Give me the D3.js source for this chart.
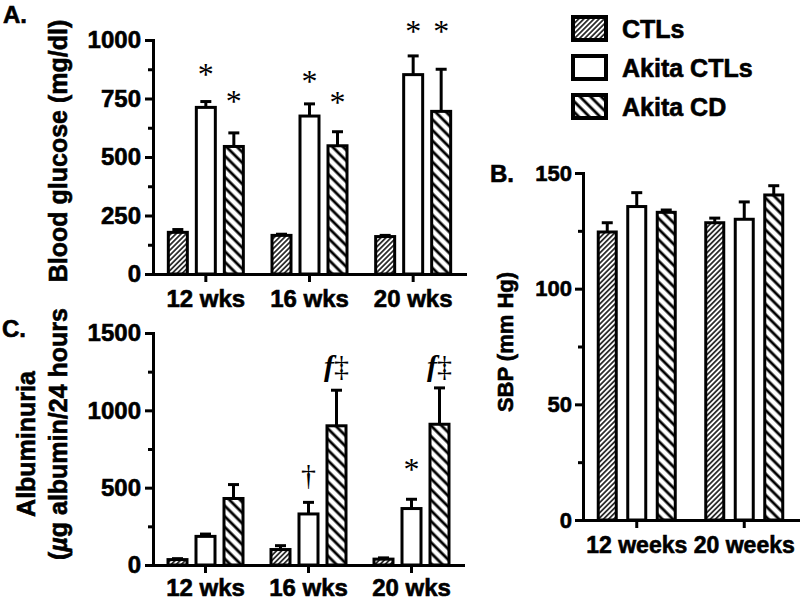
<!DOCTYPE html>
<html>
<head>
<meta charset="utf-8">
<script src="https://cdn.jsdelivr.net/npm/d3@7"></script>
<style>
  body { margin: 0; background: #fff; }
  svg { display: block; }
  text { font-family: "Liberation Sans", Arial, sans-serif; font-weight: bold; fill: #000;
         stroke: #000; stroke-width: 0.6px; }
  text.sig { stroke: none; }
</style>
</head>
<body>
<svg id="fig" width="800" height="603"></svg>
<script>

// series (legend order)
const series = ["CTLs", "Akita CTLs", "Akita CD"];

// A. blood glucose  [group][series]
const weeksAC = ["12 wks", "16 wks", "20 wks"];
const glucoseMean = [[178, 712, 545], [165, 675, 548], [160, 852, 695]];
const glucoseErr  = [[12, 25, 58], [5, 52, 60], [5, 80, 180]];
const glucoseMarks  = [[null, "*", "*"], [null, "*", "*"], [null, "*", "*"]];
const glucoseLevels = [[0, 872, 756], [0, 842, 752], [0, 1055, 1055]];
const glucoseTicks = [0, 250, 500, 750, 1000];
const glucoseMinor = [125, 375, 625, 875];

// C. albuminuria
const albuminMean = [[35, 185, 430], [100, 330, 900], [38, 365, 910]];
const albuminErr  = [[6, 15, 90], [25, 75, 230], [8, 60, 235]];
const albuminMarks  = [[null, null, null], [null, "†", "f‡"], [null, "*", "f‡"]];
const albuminLevels = [[0, 0, 0], [0, 575, 1280], [0, 646, 1280]];
const albuminTicks = [0, 500, 1000, 1500];
const albuminMinor = [250, 750, 1250];

// B. systolic blood pressure
const weeksB = ["12 weeks", "20 weeks"];
const sbpMean = [[124.5, 135.5, 133], [128.5, 130, 140.5]];
const sbpErr  = [[4, 6, 1], [2, 7.5, 4]];
const sbpTicks = [0, 50, 100, 150];
const sbpMinor = [25, 75, 125];

const svg = d3.select("#fig");
const defs = svg.append("defs");

/* ハッチング模様を作る */
function hatch(id, angle, spacing, width, color) {
  const p = defs.append("pattern")
    .attr("id", id)
    .attr("patternUnits", "userSpaceOnUse")
    .attr("width", spacing)
    .attr("height", spacing)
    .attr("patternTransform", `rotate(${angle})`);
  p.append("rect").attr("width", spacing).attr("height", spacing).attr("fill", "#fff");
  p.append("line")
    .attr("x1", spacing / 2).attr("x2", spacing / 2)
    .attr("y1", 0).attr("y2", spacing)
    .attr("stroke", color).attr("stroke-width", width);
}
hatch("hatchCtl", 45, 3.6, 1.7, "#222");
hatch("hatchCd", -45, 7.5, 2.8, "#000");
const fills = ["url(#hatchCtl)", "#fff", "url(#hatchCd)"];

/* パネル 1 つを描く */
function drawPanel(p) {
  const x = d3.scaleBand().domain(p.groups).range(p.xRange);
  const off = d3.scalePoint().domain(series).range([-p.step, p.step]);
  const y = d3.scaleLinear().domain([p.ticks[0], p.ticks[p.ticks.length - 1]]).range(p.yRange);
  const g = svg.append("g");

  const data = p.groups.flatMap((gr, i) => series.map((s, j) => ({
    gr, s, j,
    v: p.mean[i][j],
    e: p.err[i][j],
    mark: p.marks ? p.marks[i][j] : null,
    lvl: p.levels ? p.levels[i][j] : 0
  })));
  const cx = d => x(d.gr) + x.bandwidth() / 2 + off(d.s);

  // error bars (upper only)
  const eb = g.append("g").attr("stroke", "#000").attr("stroke-width", 3);
  eb.selectAll("line.stem").data(data).join("line")
    .attr("class", "stem")
    .attr("x1", cx).attr("x2", cx)
    .attr("y1", d => y(d.v)).attr("y2", d => y(d.v + d.e));
  eb.selectAll("line.cap").data(data).join("line")
    .attr("class", "cap")
    .attr("x1", d => cx(d) - 5.5).attr("x2", d => cx(d) + 5.5)
    .attr("y1", d => y(d.v + d.e)).attr("y2", d => y(d.v + d.e));

  // bars
  g.append("g").selectAll("rect").data(data).join("rect")
    .attr("x", d => cx(d) - p.barW / 2)
    .attr("y", d => y(d.v))
    .attr("width", p.barW)
    .attr("height", d => y(0) - y(d.v))
    .attr("fill", d => fills[d.j])
    .attr("stroke", "#000")
    .attr("stroke-width", 3);

  // significance marks
  g.append("g").selectAll("text").data(data.filter(d => d.mark)).join("text")
    .attr("class", "sig")
    .attr("x", cx)
    .attr("y", d => y(d.lvl) + (d.mark === "*" ? 15 : 9))
    .attr("text-anchor", "middle")
    .style("font-family", '"Liberation Serif", "Times New Roman", serif')
    .style("font-weight", "normal")
    .style("font-size", d => d.mark === "*" ? "32px" : "30px")
    .each(function (d) {
      const t = d3.select(this);
      if (d.mark.startsWith("f")) {
        t.append("tspan").text("f").style("font-style", "italic").style("font-weight", "bold");
        t.append("tspan").text(d.mark.slice(1));
      } else {
        t.text(d.mark);
      }
    });

  // minor ticks
  g.append("g")
    .attr("transform", `translate(${p.axisX},0)`)
    .call(d3.axisLeft(y).tickValues(p.minor).tickSize(5).tickFormat(""))
    .call(s => s.select(".domain").remove())
    .selectAll("line").attr("stroke-width", 3);

  // y axis
  const ya = g.append("g")
    .attr("transform", `translate(${p.axisX},0)`)
    .call(d3.axisLeft(y).tickValues(p.ticks).tickFormat(d3.format("d"))
      .tickSize(8).tickPadding(p.yPad).tickSizeOuter(0));
  ya.selectAll("line").attr("stroke-width", 3);
  ya.select(".domain").attr("stroke-width", 3).attr("stroke-linecap", "square");
  ya.selectAll("text").style("font-size", p.tickFont + "px").attr("font-family", null);

  // x axis
  const xa = g.append("g")
    .attr("transform", `translate(0,${y(0)})`)
    .call(d3.axisBottom(x).tickSize(8).tickPadding(p.xPad).tickSizeOuter(0));
  xa.selectAll("line").attr("stroke-width", 3);
  xa.select(".domain").attr("stroke-width", 3).attr("stroke-linecap", "square");
  xa.selectAll("text").style("font-size", p.xFont + "px").attr("font-family", null);
}

drawPanel({
  groups: weeksAC, mean: glucoseMean, err: glucoseErr,
  marks: glucoseMarks, levels: glucoseLevels,
  ticks: glucoseTicks, minor: glucoseMinor,
  axisX: 153, xRange: [154, 465], yRange: [274, 40],
  step: 28, barW: 19, tickFont: 24, xFont: 24, yPad: 4, xPad: 8
});

drawPanel({
  groups: weeksAC, mean: albuminMean, err: albuminErr,
  marks: albuminMarks, levels: albuminLevels,
  ticks: albuminTicks, minor: albuminMinor,
  axisX: 153, xRange: [154, 463], yRange: [565, 333],
  step: 28, barW: 19, tickFont: 24, xFont: 24, yPad: 4, xPad: 6
});

drawPanel({
  groups: weeksB, mean: sbpMean, err: sbpErr,
  ticks: sbpTicks, minor: sbpMinor,
  axisX: 583, xRange: [583, 798], yRange: [520, 173],
  step: 29.5, barW: 18, tickFont: 22, xFont: 23, yPad: 3, xPad: 9
});

// axis titles
svg.append("text")
  .attr("transform", "translate(67,151) rotate(-90)")
  .attr("text-anchor", "middle")
  .style("font-size", "25px")
  .text("Blood glucose (mg/dl)");

svg.append("text")
  .attr("transform", "translate(35,444) rotate(-90)")
  .attr("text-anchor", "middle")
  .style("font-size", "25px")
  .text("Albuminuria");

const t2 = svg.append("text")
  .attr("transform", "translate(67,434) rotate(-90)")
  .attr("text-anchor", "middle")
  .style("font-size", "25px");
t2.append("tspan").text("(");
t2.append("tspan").text("µ").style("font-style", "italic");
t2.append("tspan").text("g albumin/24 hours");

svg.append("text")
  .attr("transform", "translate(513,342) rotate(-90)")
  .attr("text-anchor", "middle")
  .style("font-size", "22px")
  .text("SBP (mm Hg)");

// panel letters
const letters = [["A.", 3, 23], ["B.", 490, 182], ["C.", 2, 337]];
svg.selectAll("text.letter").data(letters).join("text")
  .attr("class", "letter")
  .attr("x", d => d[1]).attr("y", d => d[2])
  .style("font-size", "24px")
  .text(d => d[0]);

// legend
const lg = svg.append("g").attr("transform", "translate(573,17)");
const row = lg.selectAll("g").data(series).join("g")
  .attr("transform", (d, i) => `translate(0,${i * 39})`);
row.append("rect")
  .attr("width", 33).attr("height", 23)
  .attr("fill", (d, i) => fills[i])
  .attr("stroke", "#000").attr("stroke-width", 4);
row.append("text")
  .attr("x", 49).attr("y", 21)
  .style("font-size", "25px")
  .text(d => d);

</script>
</body>
</html>
